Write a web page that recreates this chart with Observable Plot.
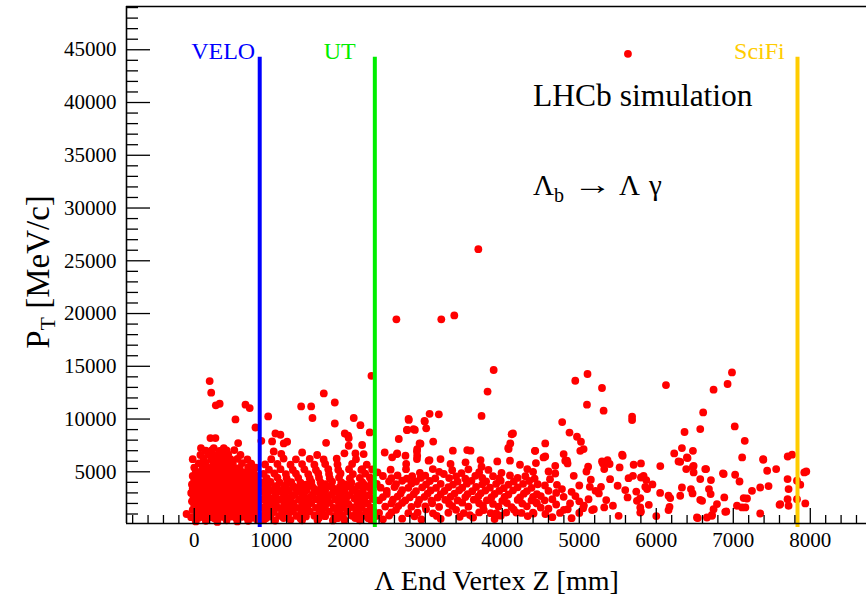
<!DOCTYPE html>
<html><head><meta charset="utf-8">
<script src="https://cdn.jsdelivr.net/npm/d3@7"></script>
<script src="https://cdn.jsdelivr.net/npm/@observablehq/plot@0.6"></script>
<style>html,body{margin:0;padding:0;background:#fff;overflow:hidden}</style>
</head><body><div id="chart"></div>
<script>
// [z (mm), pT (MeV/c)]
const veloRegion = [
[20,300],[150,350],[300,250],[420,400],[560,300],[700,350],[820,450],
[-40,700],[60,650],[120,750],[200,700],[260,600],[350,720],[410,680],[480,760],[540,650],[610,720],[680,700],[760,640],[830,760],
[-100,1000],[30,1050],[100,980],[170,1100],[240,1020],[310,1060],[380,990],[450,1080],[520,1010],[590,1050],[650,980],[720,1090],[790,1020],
[-20,1400],[50,1450],[120,1380],[190,1420],[250,1460],[320,1390],[390,1440],[460,1370],[530,1450],[600,1400],[670,1430],[740,1380],[810,1460],
[0,1800],[80,1850],[150,1780],[220,1820],[290,1860],[350,1790],[420,1830],[500,1770],[570,1850],[640,1800],[710,1840],[780,1790],[840,1820],
[-30,2200],[40,2250],[110,2180],[180,2230],[250,2190],[320,2260],[380,2200],[450,2240],[520,2170],[580,2220],[650,2260],[720,2190],[790,2230],
[-10,2600],[60,2650],[130,2580],[200,2620],[270,2660],[340,2590],[410,2630],[470,2570],[540,2640],[610,2600],[680,2650],[750,2580],[820,2620],
[-40,3000],[30,3050],[100,2980],[170,3020],[240,3060],[300,2990],[370,3030],[440,2970],[510,3050],[570,3000],[640,3040],[710,2980],[780,3020],[840,3060],
[-20,3400],[50,3450],[120,3380],[190,3420],[260,3460],[330,3390],[400,3430],[460,3370],[530,3450],[600,3400],[670,3440],[730,3380],[800,3420],
[-30,3800],[30,3850],[100,3780],[170,3820],[240,3860],[310,3790],[370,3830],[440,3770],[510,3850],[580,3800],[640,3840],[710,3780],[780,3820],[840,3850],
[0,4200],[70,4250],[140,4180],[210,4220],[280,4260],[340,4190],[410,4230],[480,4170],[550,4250],[620,4200],[690,4240],[760,4180],[820,4220],
[-20,4600],[40,4650],[110,4580],[190,4620],[260,4660],[330,4590],[390,4630],[460,4570],[530,4650],[590,4600],[660,4640],[740,4580],[810,4620],
[20,5000],[90,5050],[170,4980],[240,5020],[310,5060],[380,4990],[450,5030],[520,4970],[600,5050],[680,5000],[770,5040],
[0,5400],[110,5450],[200,5380],[280,5420],[360,5460],[440,5390],[510,5430],[590,5370],[700,5450],[800,5400],
[60,5800],[150,5850],[250,5780],[330,5820],[410,5860],[500,5790],[620,5830],[740,5770],
[-20,6200],[120,6250],[220,6180],[300,6220],[380,6260],[470,6190],[560,6230],[690,6170],
[80,6600],[180,6650],[260,6580],[350,6620],[440,6660],[600,6590],
[150,7000],[230,7050],[330,6980],[420,7020],[520,7060],
[87,7250],[253,7250],[383,7250],[210,8200],[275,8200],[570,7720]
];
const utRegion = [
[900,420],[1050,380],[1250,450],[1400,400],[1600,430],[1800,390],[1950,440],[2150,400],[2300,430],
[870,800],[980,760],[1100,830],[1200,780],[1330,820],[1450,770],[1560,840],[1700,790],[1820,810],[1930,760],[2050,830],[2180,780],[2300,820],
[920,1200],[1030,1240],[1150,1170],[1280,1230],[1390,1190],[1500,1250],[1630,1180],[1750,1220],[1870,1160],[1990,1240],[2110,1200],[2240,1230],
[880,1600],[990,1640],[1100,1570],[1210,1620],[1330,1580],[1470,1650],[1580,1590],[1690,1630],[1810,1570],[1920,1620],[2040,1660],[2170,1590],[2290,1620],
[940,2000],[1060,2050],[1170,1980],[1290,2030],[1400,1970],[1520,2040],[1640,1990],[1760,2060],[1880,2000],[2000,1960],[2120,2030],[2250,2000],
[890,2400],[1000,2440],[1120,2370],[1240,2420],[1360,2380],[1480,2450],[1590,2390],[1710,2430],[1830,2370],[1960,2420],[2080,2460],[2200,2390],[2320,2420],
[950,2800],[1060,2840],[1180,2770],[1300,2820],[1420,2780],[1540,2850],[1660,2790],[1780,2830],[1900,2770],[2020,2820],[2140,2860],[2270,2790],
[880,3200],[1000,3240],[1110,3170],[1230,3220],[1350,3180],[1460,3250],[1580,3190],[1700,3230],[1820,3170],[1950,3220],[2070,3260],[2190,3190],[2310,3220],
[930,3600],[1050,3640],[1170,3570],[1290,3620],[1410,3580],[1530,3650],[1650,3590],[1770,3630],[1890,3570],[2010,3620],[2130,3660],[2260,3590],
[880,4000],[990,4050],[1110,3980],[1260,4030],[1380,3970],[1520,4040],[1640,3990],[1790,4060],[1910,4000],[2040,3960],[2180,4030],[2300,4000],
[940,4400],[1080,4450],[1200,4380],[1350,4430],[1500,4370],[1620,4440],[1760,4390],[1880,4450],[2020,4380],[2150,4420],[2280,4460],
[900,4800],[1040,4850],[1190,4780],[1320,4830],[1480,4770],[1610,4840],[1750,4790],[1900,4850],[2060,4780],[2220,4820],
[970,5200],[1120,5250],[1280,5180],[1430,5230],[1580,5170],[1740,5240],[1870,5190],[2010,5250],[2170,5180],[2310,5220],
[920,5700],[1080,5750],[1250,5680],[1400,5730],[1560,5670],[1700,5740],[1860,5690],[2050,5750],[2240,5680],
[1000,6200],[1160,6250],[1320,6180],[1500,6230],[1680,6170],[1850,6240],[2100,6190],
[1130,6700],[1401,6830],[1596,6590],[1950,6750],[2200,6680],[2093,6740],[1032,6930],
[1011,7880],[1162,7690],[1206,7850],[1712,7750],[2006,7470],[2006,8200],[2180,7540],[871,7940],
[930,600],[1160,620],[1380,580],[1620,640],[1860,600],[2090,620],[2260,590],
[1000,1000],[1220,980],[1440,1020],[1670,990],[1900,1010],[2150,980],
[950,1400],[1160,1380],[1400,1420],[1640,1390],[1860,1430],[2100,1400],[2320,1380],
[1020,1800],[1240,1780],[1460,1820],[1700,1790],[1940,1830],[2180,1800],
[960,2200],[1180,2180],[1420,2230],[1660,2190],[1900,2220],[2140,2190],
[1040,2600],[1260,2620],[1500,2580],[1740,2630],[1980,2600],[2220,2640],
[920,3000],[1150,3020],[1390,2980],[1620,3040],[1870,3000],[2110,3030],
[1080,3400],[1320,3420],[1560,3380],[1800,3440],[2050,3400],[2290,3420],
[960,3800],[1200,3820],[1450,3780],[1700,3840],[1960,3800],[2200,3830]
];
const midRegion = [
[2450,500],[2700,560],[2950,480],[3200,540],[3447,740],[3621,670],[3900,520],[4052,1140],[4182,1140],[3922,1050],[4399,1140],
[2400,1100],[2560,1150],[2780,1080],[2900,1130],[3100,1060],[3300,1120],[3500,1090],[3700,1150],[3850,1080],[4250,1100],
[2480,1700],[2650,1750],[2820,1680],[3000,1730],[3180,1670],[3350,1740],[3560,1690],[3750,1760],[3950,1700],[4120,1660],[4320,1730],
[2400,2300],[2580,2350],[2740,2280],[2920,2330],[3080,2270],[3260,2340],[3420,2290],[3630,2360],[3800,2300],[4000,2250],[4200,2330],[4380,2290],
[2500,2900],[2680,2950],[2850,2880],[3030,2930],[3200,2870],[3380,2940],[3550,2890],[3720,2960],[3900,2900],[4080,2850],[4280,2930],[4450,2880],
[2420,3500],[2600,3550],[2780,3480],[2960,3530],[3140,3470],[3300,3540],[3480,3490],[3660,3560],[3840,3500],[4020,3450],[4200,3530],[4380,3480],
[2530,4100],[2700,4150],[2880,4080],[3060,4130],[3241,4790],[3420,4070],[3600,4140],[3790,4090],[3980,4150],[4150,4080],[4350,4130],
[2450,4600],[2640,4650],[2830,4580],[3000,4630],[3400,4570],[3650,4620],[3880,4590],[4100,4650],[4300,4580],
[2550,5200],[2750,5250],[3098,5260],[3350,5150],[3560,5230],[3820,5180],[4230,5670],[4325,5260],[2180,5260],
[2360,800],[2530,850],[2620,1400],[2860,780],[3010,1450],[3150,820],[3400,1400],[3580,900],[3760,1380],[3980,840],[4150,1420],[4330,800],
[2560,2000],[2700,2050],[2900,1950],[3090,2020],[3310,1980],[3480,2070],[3700,2010],[3880,1960],[4060,2040],[4260,1990],[4440,2080],
[2450,2600],[2640,2650],[2800,2580],[2990,2630],[3160,2560],[3330,2640],[3520,2600],[3690,2680],[3860,2590],[4030,2630],[4230,2570],[4400,2620],
[2500,3200],[2700,3250],[2880,3170],[3070,3230],[3250,3180],[3440,3250],[3610,3160],[3780,3220],[3960,3190],[4140,3240],[4320,3170],
[2370,3850],[2620,3820],[2820,3880],[3010,3800],[3200,3860],[3360,3790],[3540,3870],[3740,3810],[3920,3850],[4080,3790],[4270,3860],[4460,3820],
[2560,4400],[2760,4350],[2940,4420],[3130,4380],[3310,4410],[3520,4350],[3740,4430],[3960,4380],[4200,4420],[4420,4360],
[2380,4950],[2930,4900],[3180,5000],[3470,4880],[3700,4960],[3990,4900],[4400,5000],
[2473,6830],[2635,6740],[2570,6370],[2895,7150],[2895,6530],[2743,6530],[2752,5740],[3055,6110],[3198,6210],[3358,7000],
[3545,7060],[3588,7000],[3718,6110],[3731,5480],[3935,5980],[4100,6050],[3328,5740],[3523,5900],[2656,8110],[2938,7670],
[3103,7860],[4121,8560],[4078,7260],[2926,7690],[2632,6680],[2892,6930],[2892,6210],[3043,6050],[4082,7160],[4104,7690],
[4139,8640],[4428,6990],[4558,7690],[4536,6360],[2786,9920],[2765,8970],[2865,8970],[3176,10450],[2994,9760],[3012,9120]
];
const farRegion = [
[4650,700],[4900,600],[5167,1370],[5511,830],[5801,1240],[6000,800],[4406,1050],
[4600,1500],[4850,1450],[5050,1550],[5324,1620],[5437,1780],[5792,1620],[5792,1140],[5189,1460],[6159,1370],[6172,1680],
[4550,2300],[4797,2630],[5000,2200],[5350,2320],[5627,2570],[5749,2250],[6181,2510],[5903,1870],[5792,2510],
[4700,3000],[4775,3360],[4900,3100],[5211,3200],[5254,2950],[5597,3270],[5740,3130],[6050,3000],[6159,2730],
[4554,3700],[4710,3770],[5000,3700],[5137,3580],[5282,3580],[5498,3680],[5857,3580],[5881,3360],[5950,3800],
[4620,4300],[4928,4620],[5150,4250],[5400,4300],[5640,4400],[5697,4620],[5835,4620],[5870,4220],[5801,4460],
[4450,2000],[4500,2700],[4600,3200],[4650,2400],[4700,1900],[4800,1400],[4880,2000],[4950,2700],[5000,1100],[5060,1800],[5120,2400],[4500,1600],[4560,1000],[4750,1100],
[4424,6990],[4558,6450],[4437,5830],[4601,5030],[4688,5570],[4688,4840],[4797,6680],[4818,6050],[4848,5790],[5115,5480],
[5093,5030],[5307,5790],[5367,6110],[5324,5260],[5556,6620],[5524,5410],[5706,5670],[5801,5790],[6052,5540],[4970,8320],
[5022,7850],[5056,7150],[5013,6990],[4840,6050],[5295,5980],[5394,5740],[5564,6520]
];
const sciFiRegion = [
[6233,6740],[6333,7250],[6289,5980],[6398,6360],[6389,5260],[6476,6990],[6485,5570],[6485,4940],[6571,4310],[6647,5260],[6311,5950],[6406,6300],[6476,5480],
[6333,3510],[6311,2730],[6450,3360],[6471,2950],[6595,2250],[6528,670],[6658,670],[6571,2340],
[6684,3360],[6706,2890],[6788,1940],[6883,2570],[6744,1460],[6723,920],[6896,1210],[7048,1780],[7135,2510],[7157,1620],[7243,3200],[7350,3510],[7458,3650],[7350,1050],
[7601,1870],[7718,1780],[7705,2410],[7718,3360],[7705,4310],[7827,4150],[7870,3780],[7935,2000],[7827,2410],[7922,4940],[7948,5030],
[6710,4220],[6875,4790],[7024,4720],[7081,4080],[6636,5260],
[7149,7940],[7115,6360],[7388,6210],[7440,5100],[7557,5260],[7707,6450],[7764,6620],
[6866,4860],[6909,1240],[6538,610],[6723,830],[7113,1620],[7178,2470],[7610,1940],[7390,6140]
];
const highPT = [
[200,13600],[220,12500],[280,11300],[330,11450],[665,11360],[720,11040],[535,9960],[795,9200],[960,10250],
[1054,8630],[1119,8510],[1388,11200],[1518,11200],[1682,12430],[1825,11570],[1535,10100],[1825,9580],[2071,10100],
[2158,9420],[2279,8730],[2301,14100],[1955,8630],[1998,8420],
[2625,19450],[3208,19450],[3377,19820],[3689,26100],[3888,14650],[3809,12600],[3731,10300],
[3056,10490],[2990,9830],[2783,10010],[2762,8960],[2848,9050],
[5107,14270],[4948,13630],[5295,12940],[6126,13220],[5100,11360],[5316,10790],[5686,10220],[5686,9900],[6609,10630],
[6983,14420],[6926,13320],[6744,12780],[7019,9300],[4778,9710],[4873,8720],[6571,9050],[6367,8770],
[5632,44610]
];

const detectorNames = ["VELO", "UT", "SciFi"];
const detectorZ = [850, 2345, 7834];
const detectorColors = ["#0000ff", "#00ee00", "#ffcc00"];
const detectorLabelZ = [-40, 1680, 7010];

const xTickLabels = [0, 1000, 2000, 3000, 4000, 5000, 6000, 7000, 8000];
const yTickLabels = [5000, 10000, 15000, 20000, 25000, 30000, 35000, 40000, 45000];

const xDomain = [-880, 8730];
const yDomain = [100, 49100];
const xMinor = d3.range(-800, 8730, 200).filter(v => !xTickLabels.includes(v));
const yMinor = d3.range(1000, 49100, 1000).filter(v => !yTickLabels.includes(v));

const points = [...veloRegion, ...utRegion, ...midRegion, ...farRegion, ...sciFiRegion, ...highPT];
const detectors = detectorNames.map((name, i) => ({name, z: detectorZ[i], color: detectorColors[i], labelZ: detectorLabelZ[i]}));

const W = 866, H = 598, ML = 126, MR = 0, MT = 6, MB = 75;
const FW = W - ML - MR, FH = H - MT - MB;

const chart = Plot.plot({
  width: W, height: H,
  marginLeft: ML, marginRight: MR, marginTop: MT, marginBottom: MB,
  style: {fontFamily: "'Liberation Serif', 'Times New Roman', serif", background: "#fff", color: "#000", overflow: "visible"},
  x: {domain: xDomain},
  y: {domain: yDomain},
  color: {type: "identity"},
  marks: [
    Plot.dot(points, {x: d => d[0], y: d => d[1], r: 3.9, fill: "#ff0000", stroke: "none"}),
    Plot.ruleX(detectors, {x: "z", y1: -280, y2: 44300, stroke: "color", strokeWidth: 4}),
    Plot.text(detectors, {x: "labelZ", y: 44300, text: "name", fill: "color", textAnchor: "start", lineAnchor: "bottom", fontSize: 24, dy: 2}),
    Plot.tickX(xMinor, {x: d => d, insetTop: FH - 8, stroke: "#000", strokeWidth: 1.3}),
    Plot.tickX(xTickLabels, {x: d => d, insetTop: FH - 15, stroke: "#000", strokeWidth: 1.3}),
    Plot.tickY(yMinor, {y: d => d, insetRight: FW - 12, stroke: "#000", strokeWidth: 1.3}),
    Plot.tickY(yTickLabels, {y: d => d, insetRight: FW - 24, stroke: "#000", strokeWidth: 1.3}),
    Plot.ruleY([yDomain[0]], {stroke: "#000", strokeWidth: 1.6}),
    Plot.ruleY([yDomain[1]], {stroke: "#000", strokeWidth: 1.6}),
    Plot.ruleX([xDomain[0]], {stroke: "#000", strokeWidth: 1.6}),
    Plot.axisX({ticks: xTickLabels, tickSize: 0, tickPadding: 9, tickFormat: d => String(d), fontSize: 21, label: null}),
    Plot.axisY({ticks: yTickLabels, tickSize: 0, tickPadding: 10, tickFormat: d => String(d), fontSize: 21, label: null}),
    Plot.text(["Λ End Vertex Z [mm]"], {frameAnchor: "bottom", dy: 66, lineAnchor: "bottom", fontSize: 28, fill: "#000"})
  ]
});
document.getElementById("chart").appendChild(chart);

const svg = d3.select(chart);
const font = "'Liberation Serif', 'Times New Roman', serif";
// y-axis title with subscript
const yt = svg.append("text")
  .attr("transform", "translate(49,272) rotate(-90)")
  .attr("text-anchor", "middle")
  .attr("font-family", font).attr("font-size", 33).attr("fill", "#000");
yt.append("tspan").text("P");
yt.append("tspan").attr("font-size", 22).attr("dy", 6).text("T");
yt.append("tspan").attr("dy", -6).text(" [MeV/c]");

svg.append("text").attr("x", 533).attr("y", 106)
  .attr("text-anchor", "start")
  .attr("font-family", font).attr("font-size", 31.5).attr("fill", "#000")
  .text("LHCb simulation");

const dec = svg.append("text").attr("y", 195)
  .attr("text-anchor", "start")
  .attr("font-family", font).attr("font-size", 29).attr("fill", "#000");
dec.append("tspan").attr("x", 533).text("Λ");
dec.append("tspan").attr("x", 554).attr("font-size", 20).attr("dy", 7).text("b");
dec.append("tspan").attr("x", 619).attr("dy", -7).text("Λ");
dec.append("tspan").attr("x", 649).text("γ");
svg.append("text")
  .attr("transform", "translate(573,194) scale(1.35,1)")
  .attr("text-anchor", "start")
  .attr("font-family", font).attr("font-size", 29).attr("fill", "#000")
  .text("→");
</script></body></html>
